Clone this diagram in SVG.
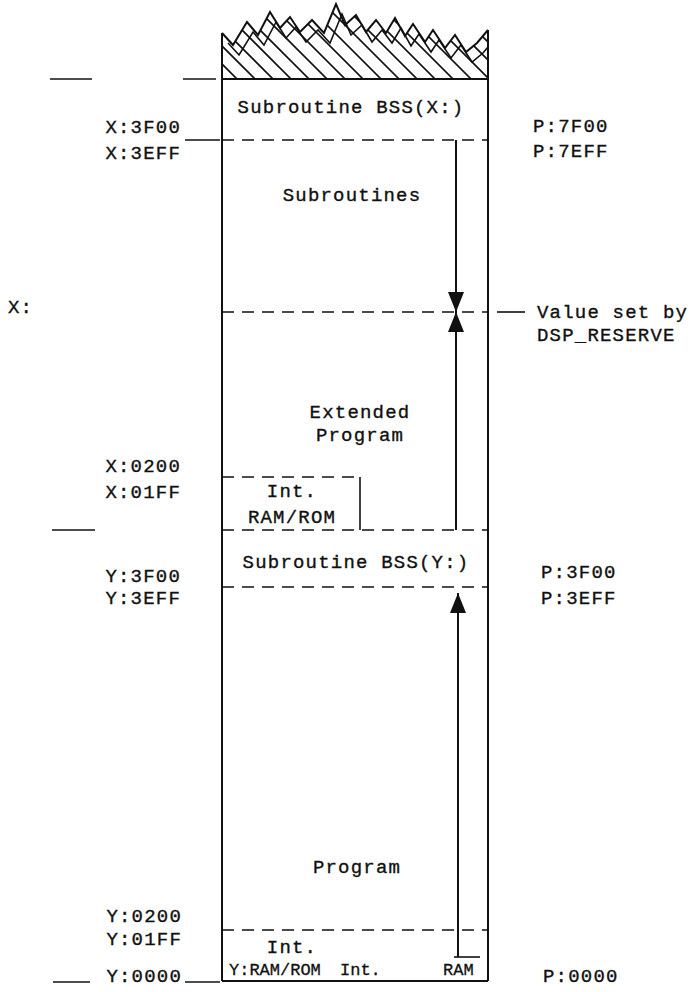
<svg xmlns="http://www.w3.org/2000/svg" width="694" height="992" viewBox="0 0 694 992">
<style>
  .t { font-family: "Liberation Mono", "DejaVu Sans Mono", monospace; font-size: 19px; letter-spacing: 1.2px; fill: #111; stroke: #111; stroke-width: 0.35px; }
  .s { font-family: "Liberation Mono", "DejaVu Sans Mono", monospace; font-size: 17px; fill: #111; stroke: #111; stroke-width: 0.3px; }
  .m { text-anchor: middle; }
  .e { text-anchor: end; }
  .edge { stroke: #111; stroke-width: 2; fill: none; stroke-linejoin: miter; }
  .dash { stroke: #111; stroke-width: 1.6; stroke-dasharray: 12 8; fill: none; }
  .tick { stroke: #111; stroke-width: 1.6; fill: none; }
  .arrow { stroke: #111; stroke-width: 2; fill: none; marker-end: url(#ah); }
  .hatch line { stroke: #111; stroke-width: 1.7; }
</style>
<defs>
  <marker id="ah" markerUnits="userSpaceOnUse" markerWidth="20" markerHeight="16" viewBox="0 0 20 16" refX="20" refY="8" orient="auto">
    <path d="M0,0 L20,8 L0,16 z" fill="#111"/>
  </marker>
  <clipPath id="tear">
    <path d="M222,33 L233,45 L247,22 L258,35 L270,12 L280,28 L290,17 L300,32 L312,20 L324,33 L336,4 L345,25 L356,15 L366,32 L376,20 L386,33 L395,18 L405,36 L413,24 L425,42 L433,30 L445,48 L455,35 L466,52 L477,43 L488,30 L488,79 L222,79 Z"/>
  </clipPath>
  <clipPath id="boxclip">
    <rect x="222" y="0" width="266" height="79"/>
  </clipPath>
</defs>
<rect width="694" height="992" fill="#fff"/>

<g id="torn-top">
  <g class="hatch" clip-path="url(#tear)">
    <line x1="140" y1="0" x2="240" y2="100"/>
    <line x1="158" y1="0" x2="258" y2="100"/>
    <line x1="176" y1="0" x2="276" y2="100"/>
    <line x1="194" y1="0" x2="294" y2="100"/>
    <line x1="212" y1="0" x2="312" y2="100"/>
    <line x1="230" y1="0" x2="330" y2="100"/>
    <line x1="248" y1="0" x2="348" y2="100"/>
    <line x1="266" y1="0" x2="366" y2="100"/>
    <line x1="284" y1="0" x2="384" y2="100"/>
    <line x1="302" y1="0" x2="402" y2="100"/>
    <line x1="320" y1="0" x2="420" y2="100"/>
    <line x1="338" y1="0" x2="438" y2="100"/>
    <line x1="356" y1="0" x2="456" y2="100"/>
    <line x1="374" y1="0" x2="474" y2="100"/>
    <line x1="392" y1="0" x2="492" y2="100"/>
    <line x1="410" y1="0" x2="510" y2="100"/>
    <line x1="428" y1="0" x2="528" y2="100"/>
    <line x1="446" y1="0" x2="546" y2="100"/>
    <line x1="464" y1="0" x2="564" y2="100"/>
  </g>
  <polyline class="edge" points="222,33 233,45 247,22 258,35 270,12 280,28 290,17 300,32 312,20 324,33 336,4 345,25 356,15 366,32 376,20 386,33 395,18 405,36 413,24 425,42 433,30 445,48 455,35 466,52 477,43 488,30"/>
  <g clip-path="url(#boxclip)">
    <polyline class="tick" transform="translate(6,10)" points="222,33 233,45 247,22 258,35 270,12 280,28 290,17 300,32 312,20 324,33 336,4 345,25 356,15 366,32 376,20 386,33 395,18 405,36 413,24 425,42 433,30 445,48 455,35 466,52 477,43 488,30"/>
  </g>
</g>

<g id="memory-box">
  <line class="edge" x1="222" y1="33" x2="222" y2="981"/>
  <line class="edge" x1="488" y1="30" x2="488" y2="981"/>
  <line class="edge" x1="222" y1="79" x2="488" y2="79"/>
  <line class="edge" x1="222" y1="981" x2="488" y2="981"/>
</g>

<g id="boundaries">
  <line class="dash" x1="222" y1="140" x2="488" y2="140"/>
  <line class="dash" x1="222" y1="312" x2="488" y2="312"/>
  <line class="dash" x1="222" y1="530" x2="488" y2="530"/>
  <line class="dash" x1="222" y1="587" x2="488" y2="587"/>
  <line class="dash" x1="222" y1="930" x2="488" y2="930"/>
  <line class="tick" x1="50" y1="79" x2="92" y2="79"/>
  <line class="tick" x1="183" y1="79" x2="216" y2="79"/>
  <line class="tick" x1="185" y1="140" x2="220" y2="140"/>
  <line class="tick" x1="52" y1="530" x2="95" y2="530"/>
  <line class="tick" x1="53" y1="982" x2="90" y2="982"/>
  <line class="tick" x1="185" y1="982" x2="220" y2="982"/>
  <line class="tick" x1="497" y1="312" x2="525" y2="312"/>
</g>

<g id="subroutine-bss-x">
  <text class="t m" x="351" y="113">Subroutine BSS(X:)</text>
</g>
<g id="subroutines">
  <text class="t m" x="352" y="201">Subroutines</text>
</g>
<g id="extended-program">
  <text class="t m" x="360" y="418">Extended</text>
  <text class="t m" x="360" y="441">Program</text>
</g>
<g id="int-ram-rom-x">
  <line class="dash" x1="222" y1="477" x2="358" y2="477"/>
  <line class="tick" x1="360" y1="477" x2="360" y2="530"/>
  <text class="t m" x="292" y="497">Int.</text>
  <text class="t m" x="292" y="523">RAM/ROM</text>
</g>
<g id="subroutine-bss-y">
  <text class="t m" x="356" y="568">Subroutine BSS(Y:)</text>
</g>
<g id="program">
  <text class="t m" x="357" y="873">Program</text>
</g>
<g id="int-ram-rom-y">
  <text class="t m" x="292" y="953">Int.</text>
  <text class="s" x="229" y="975">Y:RAM/ROM</text>
</g>
<g id="int-ram">
  <line class="tick" x1="454" y1="957" x2="480" y2="957"/>
  <text class="s" x="340" y="975"><tspan x="340">Int. </tspan><tspan x="443">RAM</tspan></text>
</g>

<g id="left-labels">
  <text class="t e" x="181" y="133">X:3F00</text>
  <text class="t e" x="181" y="159">X:3EFF</text>
  <text class="t" x="8" y="313">X:</text>
  <text class="t e" x="181" y="472">X:0200</text>
  <text class="t e" x="181" y="498">X:01FF</text>
  <text class="t e" x="181" y="582">Y:3F00</text>
  <text class="t e" x="181" y="604">Y:3EFF</text>
  <text class="t e" x="182" y="922">Y:0200</text>
  <text class="t e" x="182" y="945">Y:01FF</text>
  <text class="t e" x="182" y="982">Y:0000</text>
</g>

<g id="right-labels">
  <text class="t" x="533" y="132">P:7F00</text>
  <text class="t" x="533" y="157">P:7EFF</text>
  <text class="t" x="537" y="318">Value set by</text>
  <text class="t" x="537" y="341">DSP_RESERVE</text>
  <text class="t" x="541" y="578">P:3F00</text>
  <text class="t" x="541" y="604">P:3EFF</text>
  <text class="t" x="543" y="982">P:0000</text>
</g>

<g id="connectors">
  <line class="arrow" x1="456" y1="140" x2="456" y2="312"/>
  <line class="arrow" x1="456" y1="530" x2="456" y2="312"/>
  <line class="arrow" x1="458" y1="957" x2="458" y2="593"/>
</g>
</svg>
